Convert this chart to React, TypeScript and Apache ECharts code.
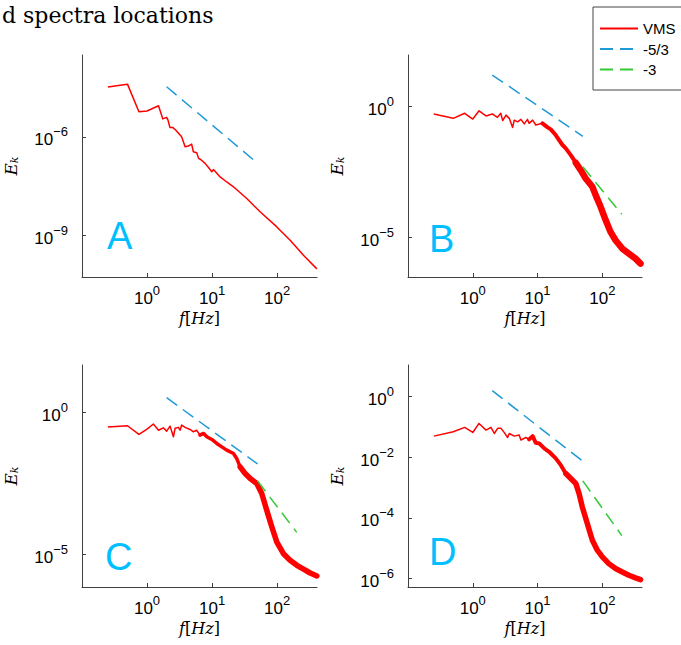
import React, { useEffect, useRef } from 'react';
import * as echarts from 'echarts';

// ---- data ----
const xTicks = [1, 10, 100];
const yTicksA = [1e-9, 1e-6];
const yTicksB = [1e-5, 1];
const yTicksC = [1e-5, 1];
const yTicksD = [1e-6, 1e-4, 1e-2, 1];

const fA = [0.25, 0.5, 0.75, 1.0, 1.5, 1.75, 2.0, 2.1, 2.25, 2.5, 2.75, 3.4, 3.85, 4.3, 4.85, 5.15, 5.8, 6.2, 6.75, 7.8, 8.8, 9.9, 10.5, 13.3, 16.8, 21.3, 34.1, 54.7, 98.9, 158.5, 254, 408];
const eA = [3.3e-5, 4.0e-5, 5.8e-6, 6.1e-6, 8.8e-6, 3.5e-6, 3.9e-6, 3.2e-6, 1.9e-6, 1.9e-6, 1.6e-6, 1.0e-6, 5.0e-7, 5.2e-7, 6.0e-7, 3.5e-7, 3.25e-7, 2.2e-7, 2.0e-7, 1.55e-7, 1.16e-7, 8.6e-8, 1.0e-7, 6.0e-8, 4.2e-8, 3.0e-8, 1.32e-8, 5.2e-9, 1.8e-9, 7.1e-10, 2.46e-10, 9.5e-11];

const fB = [0.25, 0.5, 0.75, 1.0, 1.25, 1.6, 2.0, 2.4, 2.7, 2.9, 3.26, 3.66, 4.12, 4.37, 4.92, 5.54, 6.23, 7.0, 7.4, 8.4, 9.4, 11.9, 14.3, 16.0, 19.1, 21.5, 24.3, 27.3, 32.6, 38.9, 46.4, 55.4, 70.2, 78.9, 94.2, 112.5, 134, 160, 203, 257, 326, 389];
const eB = [0.50, 0.34, 0.53, 0.32, 0.66, 0.42, 0.50, 0.37, 0.53, 0.28, 0.45, 0.34, 0.154, 0.29, 0.25, 0.31, 0.21, 0.31, 0.22, 0.29, 0.19, 0.22, 0.155, 0.13, 0.079, 0.051, 0.033, 0.0245, 0.0136, 0.0070, 0.00366, 0.00176, 8.5e-4, 4.1e-4, 1.47e-4, 4.6e-5, 1.64e-5, 7.9e-6, 3.8e-6, 2.45e-6, 1.58e-6, 1.02e-6];

const fC = [0.25, 0.5, 0.75, 1.0, 1.25, 1.5, 1.78, 2.0, 2.26, 2.54, 2.7, 3.03, 3.22, 3.41, 3.84, 4.59, 5.16, 5.8, 6.5, 7.4, 8.3, 9.9, 11.8, 14.1, 16.8, 21.3, 23.9, 27, 32.2, 38.5, 48.7, 58, 69.3, 82.8, 98.9, 125, 158, 201, 254, 322, 408];
const eC = [0.30, 0.33, 0.164, 0.25, 0.38, 0.23, 0.28, 0.214, 0.32, 0.135, 0.27, 0.29, 0.23, 0.35, 0.29, 0.245, 0.203, 0.23, 0.155, 0.177, 0.135, 0.109, 0.079, 0.060, 0.046, 0.035, 0.0234, 0.0119, 0.0069, 0.0046, 0.0031, 0.00137, 3.5e-4, 9.2e-5, 2.7e-5, 1.05e-5, 6.2e-6, 4.1e-6, 3.0e-6, 2.2e-6, 1.73e-6];

const fD = [0.25, 0.5, 0.75, 1.0, 1.25, 1.6, 1.91, 2.15, 2.42, 2.73, 3.07, 3.45, 3.66, 4.37, 5.2, 5.54, 6.6, 7.4, 8.4, 9.4, 10.6, 12.7, 15.1, 19.1, 22.9, 27.3, 32.6, 38.9, 43.7, 49.1, 58.6, 70.2, 83.8, 100, 126, 160, 203, 257, 326, 389];
const eD = [0.050, 0.070, 0.097, 0.066, 0.131, 0.079, 0.097, 0.061, 0.090, 0.090, 0.065, 0.045, 0.061, 0.050, 0.054, 0.037, 0.045, 0.039, 0.050, 0.030, 0.0287, 0.0196, 0.0152, 0.0092, 0.0055, 0.0029, 0.0020, 0.00137, 6.4e-4, 2.3e-4, 6.5e-5, 1.84e-5, 8.6e-6, 5.2e-6, 3.1e-6, 2.13e-6, 1.65e-6, 1.28e-6, 1.05e-6, 9.2e-7];

// reference power-law guides: endpoints
const guideF53 = [2, 50];
const guideF3 = [50, 200];
const g53A = [3.34e-5, 1.56e-7];
const g53B = [15.1, 0.0708];
const g53C = [3.2, 0.015];
const g53D = [1.58, 0.0074];
const g3B = [4.9e-3, 7.65e-5];
const g3C = [3.8e-3, 5.9e-5];
const g3D = [1.66e-3, 2.6e-5];

const panelLabels = ['A', 'B', 'C', 'D'];
const legendNames = ['VMS', '-5/3', '-3'];

// ---- styling / layout ----
const RED = '#ff0000';
const BLUE = '#1f9ad6';
const GREEN = '#36c936';
const LETTER = '#00bfff';
const AXIS = '#404040';
const SANS = '"Liberation Sans", Arial, sans-serif';
const SERIF = '"DejaVu Serif", serif';

const xMin = 0.1;
const xMax = 410;

const panels = [
  { f: fA, e: eA, g53: g53A, g3: null as number[] | null, yTicks: yTicksA, yMin: 5.37e-11, yMax: 3.09e-4, left: 82, top: 55, width: 235, t1: Infinity, t2: Infinity, w2: 1.5, w3: 1.5, lx: 107, ly: 236 },
  { f: fB, e: eB, g53: g53B, g3: g3B, yTicks: yTicksB, yMin: 3.16e-7, yMax: 87.1, left: 408, top: 55, width: 234, t1: 11.9, t2: 38.9, w2: 4, w3: 6.5, lx: 429, ly: 239 },
  { f: fC, e: eC, g53: g53C, g3: g3C, yTicks: yTicksC, yMin: 7.08e-7, yMax: 45.2, left: 82, top: 365, width: 235, t1: 6.5, t2: 27, w2: 3.5, w3: 5.5, lx: 105, ly: 557 },
  { f: fD, e: eD, g53: g53D, g3: g3D, yTicks: yTicksD, yMin: 5.25e-7, yMax: 11.1, left: 408, top: 365, width: 234, t1: 7.4, t2: 27.3, w2: 4, w3: 5.5, lx: 429, ly: 552 },
];

const powLabel = (v: number) => {
  const l = Math.log10(v);
  const e = Math.round(l);
  if (Math.abs(l - e) > 1e-6) return '';
  const es = e < 0 ? '\u2212' + -e : String(e);
  return `{b|10}{s|${es}}`;
};

const richTick = {
  b: { fontSize: 17, fontFamily: SANS, color: '#000', lineHeight: 23, verticalAlign: 'bottom' },
  s: { fontSize: 13, fontFamily: SANS, color: '#000', lineHeight: 10, verticalAlign: 'top' },
};

function buildOption() {
  const grid: any[] = [];
  const xAxis: any[] = [];
  const yAxis: any[] = [];
  const series: any[] = [];
  const graphic: any[] = [];

  panels.forEach((p, i) => {
    grid.push({ left: p.left, top: p.top, width: p.width, height: 222, containLabel: false });
    xAxis.push({
      type: 'log', logBase: 10, gridIndex: i, min: xMin, max: xMax,
      splitLine: { show: false },
      axisLine: { show: true, lineStyle: { color: AXIS, width: 1 } },
      axisTick: { show: true, inside: true, length: 4, lineStyle: { color: AXIS }, customValues: xTicks },
      axisLabel: { margin: 7, formatter: powLabel, rich: richTick, customValues: xTicks },
      name: '{i|f}{r|[}{i|Hz}{r|]}',
      nameLocation: 'middle', nameGap: 33,
      nameTextStyle: { rich: { i: { fontFamily: SERIF, fontStyle: 'italic', fontSize: 16, color: '#000' }, r: { fontFamily: SERIF, fontSize: 16, color: '#000' } } },
    });
    yAxis.push({
      type: 'log', logBase: 10, gridIndex: i, min: p.yMin, max: p.yMax,
      splitLine: { show: false },
      axisLine: { show: true, lineStyle: { color: AXIS, width: 1 } },
      axisTick: { show: true, inside: true, length: 4, lineStyle: { color: AXIS }, customValues: p.yTicks },
      axisLabel: { margin: 14, formatter: powLabel, rich: richTick, customValues: p.yTicks },
      name: '{e|E}{k|k}',
      nameLocation: 'middle', nameGap: 62, nameRotate: 90,
      nameTextStyle: { rich: { e: { fontFamily: SERIF, fontStyle: 'italic', fontSize: 17, color: '#000', verticalAlign: 'top', lineHeight: 18 }, k: { fontFamily: SERIF, fontStyle: 'italic', fontSize: 11, color: '#000', verticalAlign: 'bottom', lineHeight: 12 } } },
    });

    const pts = p.f.map((f, k) => [f, p.e[k]]);
    const seg = (lo: number, hi: number) => pts.filter((d) => d[0] >= lo && d[0] <= hi);
    const common = { type: 'line', xAxisIndex: i, yAxisIndex: i, symbol: 'none', showSymbol: false, silent: true, clip: true };
    series.push({ ...common, name: 'VMS', data: seg(0, p.t1), lineStyle: { color: RED, width: 1.5, join: 'round' }, itemStyle: { color: RED } });
    if (p.t1 !== Infinity) {
      series.push({ ...common, name: 'VMS', data: seg(p.t1, p.t2), lineStyle: { color: RED, width: p.w2, join: 'round', cap: 'round' }, itemStyle: { color: RED } });
      series.push({ ...common, name: 'VMS', data: seg(p.t2, Infinity), lineStyle: { color: RED, width: p.w3, join: 'round', cap: 'round' }, itemStyle: { color: RED } });
    }
    series.push({ ...common, name: '-5/3', data: guideF53.map((f, k) => [f, p.g53[k]]), lineStyle: { color: BLUE, width: 1.5, type: [13, 7] }, itemStyle: { color: BLUE } });
    if (p.g3) {
      const g3 = p.g3;
      series.push({ ...common, name: '-3', data: guideF3.map((f, k) => [f, g3[k]]), lineStyle: { color: GREEN, width: 1.5, type: [13, 7] }, itemStyle: { color: GREEN } });
    }

    graphic.push({
      type: 'text', x: p.lx, y: p.ly, silent: true,
      style: { text: panelLabels[i], fontSize: 38, fontFamily: SANS, fill: LETTER, align: 'left', verticalAlign: 'middle' },
    });
  });

  graphic.push({
    type: 'text', x: 2, y: 2, silent: true,
    style: { text: 'd spectra locations', fontSize: 22, lineHeight: 26, fontFamily: SERIF, fill: '#000', align: 'left', verticalAlign: 'top' },
  });

  return {
    animation: false,
    backgroundColor: '#ffffff',
    grid, xAxis, yAxis, series, graphic,
    legend: {
      data: legendNames,
      orient: 'vertical', left: 593, top: 7,
      padding: [14, 60, 13, 6],
      itemWidth: 38, itemHeight: 14, itemGap: 5.5,
      borderColor: '#444', borderWidth: 1,
      itemStyle: { opacity: 0, borderWidth: 0 },
      textStyle: { fontSize: 15, fontFamily: SANS, color: '#000' },
      selectedMode: false,
    },
  };
}

export default function App() {
  const ref = useRef<HTMLDivElement>(null);
  useEffect(() => {
    if (!ref.current) return;
    const chart = echarts.init(ref.current, null, { renderer: 'svg' });
    chart.setOption(buildOption() as any);
    return () => chart.dispose();
  }, []);
  return <div ref={ref} style={{ position: 'absolute', left: 0, top: 0, width: 681, height: 645, background: '#fff' }} />;
}
